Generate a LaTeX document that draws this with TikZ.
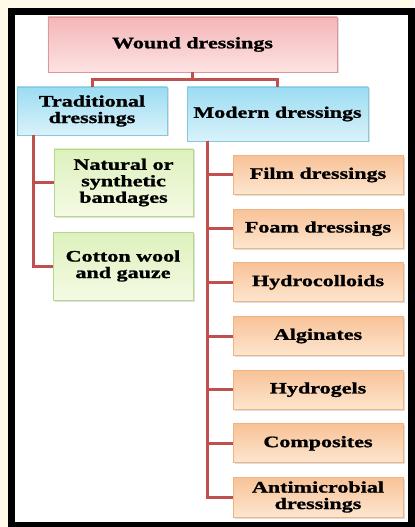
\documentclass[tikz,border=0pt]{standalone}
\usepackage{fontspec}
\setmainfont{Liberation Serif}[FakeStretch=1.38, BoldFeatures={FakeBold=1.2}]
\usetikzlibrary{shadows}
\definecolor{cream}{HTML}{FFFBE8}
\definecolor{linkred}{HTML}{C0504D}
\definecolor{pinktop}{HTML}{F4B6B9}
\definecolor{pinkbot}{HTML}{FDE2E2}
\definecolor{pinkedge}{HTML}{D9999A}
\definecolor{bluetop}{HTML}{9CDCF2}
\definecolor{bluebot}{HTML}{D9F2FA}
\definecolor{blueedge}{HTML}{86C8DD}
\definecolor{greentop}{HTML}{DDF1BC}
\definecolor{greenbot}{HTML}{F4FAE4}
\definecolor{greenedge}{HTML}{B5D88E}
\definecolor{orangetop}{HTML}{F8C297}
\definecolor{orangebot}{HTML}{FDE6CF}
\definecolor{orangeedge}{HTML}{EDB485}
\tikzset{
  box/.style={draw, line width=0.8bp, align=center, inner sep=1bp,
    font=\bfseries\fontsize{16bp}{16.5bp}\selectfont, text=black,
    drop shadow={opacity=0.25, shadow xshift=1.5bp, shadow yshift=-1.5bp}},
  pinkbox/.style={box, draw=pinkedge, top color=pinktop, bottom color=pinkbot},
  bluebox/.style={box, draw=blueedge, top color=bluetop, bottom color=bluebot},
  greenbox/.style={box, draw=greenedge, top color=greentop, bottom color=greenbot},
  orangebox/.style={box, draw=orangeedge, top color=orangetop, bottom color=orangebot,
    minimum width=170bp, minimum height=39bp},
  link/.style={draw=linkred, line width=3bp}
}
\begin{document}
\begin{tikzpicture}[x=1bp, y=-1bp]
\useasboundingbox (0,0) rectangle (414,527);
\fill[cream] (0,0) rectangle (414,527);
\draw[line width=7bp, fill=white] (11,11.5) rectangle (411.5,525.5);

\node[pinkbox, minimum width=289bp, minimum height=55bp] (wound) at (192.5,44.5) {Wound dressings};
\node[bluebox, minimum width=150bp, minimum height=48bp] (trad) at (92,111) {Traditional\\dressings};
\node[bluebox, minimum width=181bp, minimum height=54bp] (modern) at (277.5,114) {Modern dressings};
\node[greenbox, minimum width=139bp, minimum height=67bp] (nat) at (123.5,182.5) {Natural or\\synthetic\\bandages};
\node[greenbox, minimum width=140bp, minimum height=68bp] (cot) at (123,266) {Cotton wool\\and gauze};

\node[orangebox] (film) at (318,175) {Film dressings};
\node[orangebox] (foam) at (318,228.7) {Foam dressings};
\node[orangebox] (hydc) at (318,282.3) {Hydrocolloids};
\node[orangebox] (alg) at (318,336) {Alginates};
\node[orangebox] (hydg) at (318,389.7) {Hydrogels};
\node[orangebox] (comp) at (318,443.3) {Composites};
\node[orangebox, minimum height=40bp] (anti) at (318,497) {Antimicrobial\\dressings};

\coordinate (split) at (192.5,80);
\draw[link] (wound.south) -- (split);
\draw[link] (split) -| (trad.north);
\draw[link] (split) -| (modern.north);

\coordinate (tl) at (33,135);
\draw[link] (tl) |- (nat.west);
\draw[link] (tl) |- (cot.west);

\coordinate (ml) at (207,141);
\foreach \n in {film,foam,hydc,alg,hydg,comp,anti}
  \draw[link] (ml) |- (\n.west);
\end{tikzpicture}
\end{document}
